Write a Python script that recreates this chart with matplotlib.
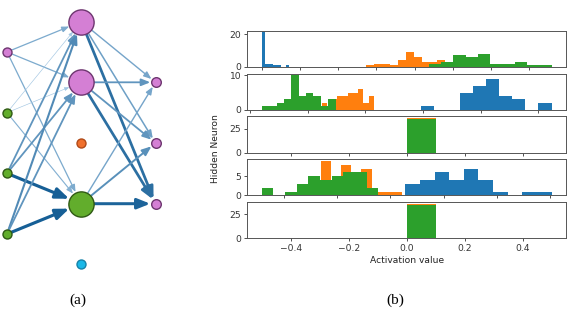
import numpy as np
import matplotlib
matplotlib.use("Agg")
import matplotlib.pyplot as plt
from matplotlib.patches import FancyArrowPatch
from matplotlib.ticker import MultipleLocator
from matplotlib.colors import to_rgb

# --- network (a): layers, node colours, node sizes, weighted edges ---
layer_sizes = [4, 5, 3]
node_colors = [
    ["pink", "green", "green", "green"],
    ["pink", "pink", "orange", "green", "cyan"],
    ["pink", "pink", "pink"],
]
node_sizes = [
    [42, 42, 42, 42],
    [330, 330, 42, 330, 42],
    [48, 48, 48],
]
# (from layer, from node, to node, weight)
edges = [
    (0, 0, 0, 0.30), (0, 0, 1, 0.30), (0, 0, 3, 0.30),
    (0, 1, 0, 0.05), (0, 1, 1, 0.05), (0, 1, 3, 0.25),
    (0, 2, 0, 0.50), (0, 2, 1, 0.50), (0, 2, 3, 1.00),
    (0, 3, 0, 0.60), (0, 3, 1, 0.50), (0, 3, 3, 1.00),
    (1, 0, 0, 0.35), (1, 0, 1, 0.40), (1, 0, 2, 0.85),
    (1, 1, 0, 0.50), (1, 1, 1, 0.50), (1, 1, 2, 0.85),
    (1, 3, 0, 0.35), (1, 3, 1, 0.55), (1, 3, 2, 0.95),
]

# --- histograms (b): per hidden neuron, per class (range, counts of 10 bins) ---
class_colors = ["#1f77b4", "#ff7f0e", "#2ca02c"]
n1_ranges = [(-0.600, -0.459), (-0.052, 0.361), (0.274, 0.918)]
n1_counts = [[21, 2, 2, 2, 1, 1, 1, 0, 0, 1],
             [1, 2, 2, 1, 4, 9, 6, 3, 3, 4],
             [2, 3, 7, 6, 8, 2, 2, 3, 1, 1]]
n2_ranges = [(-0.007, 0.4455), (-0.3513, -0.1705), (-0.5586, -0.3029)]
n2_counts = [[1, 0, 0, 5, 7, 9, 4, 3, 0, 2],
             [2, 1, 3, 4, 4, 5, 5, 6, 2, 4],
             [1, 1, 2, 3, 10, 4, 5, 4, 1, 3]]
n3_ranges = [(-0.5, 0.5), (-0.5, 0.5), (-0.5, 0.5)]
n3_counts = [[0, 0, 0, 0, 0, 31, 0, 0, 0, 0],
             [0, 0, 0, 0, 0, 36, 0, 0, 0, 0],
             [0, 0, 0, 0, 0, 35, 0, 0, 0, 0]]
n4_ranges = [(0.0562, 0.606), (-0.3385, 0.0438), (-0.4836, -0.0462)]
n4_counts = [[3, 4, 6, 4, 7, 4, 1, 0, 1, 1],
             [1, 1, 9, 3, 8, 4, 7, 1, 1, 1],
             [2, 0, 1, 3, 5, 4, 5, 6, 6, 2]]
n5_ranges = [(-0.5, 0.5), (-0.5, 0.5), (-0.5, 0.5)]
n5_counts = [[0, 0, 0, 0, 0, 31, 0, 0, 0, 0],
             [0, 0, 0, 0, 0, 36, 0, 0, 0, 0],
             [0, 0, 0, 0, 0, 35, 0, 0, 0, 0]]
y_ticks = [[0, 20], [0, 10], [0, 25], [0, 5], [0, 25]]

all_ranges = [n1_ranges, n2_ranges, n3_ranges, n4_ranges, n5_ranges]
all_counts = [n1_counts, n2_counts, n3_counts, n4_counts, n5_counts]

palette = {
    "pink": ("#d47fd4", "#6e3670"),
    "green": ("#62ad2c", "#2f5a14"),
    "orange": ("#f0702d", "#b04a18"),
    "cyan": ("#1ab8e8", "#1582a8"),
}

plt.rcParams.update({
    "font.family": ["DejaVu Sans"],
    "font.size": 6.6,
    "axes.edgecolor": "#555555",
    "axes.linewidth": 0.7,
    "xtick.major.size": 2.0,
    "ytick.major.size": 2.0,
    "xtick.major.width": 0.6,
    "ytick.major.width": 0.6,
    "xtick.major.pad": 2.4,
    "ytick.major.pad": 2.4,
    "xtick.labelsize": 6.6,
    "ytick.labelsize": 6.6,
    "xtick.color": "#333333",
    "ytick.color": "#333333",
})

fig = plt.figure(figsize=(5.7, 3.14), dpi=100)

# --- (a) network graph ---
ax_net = fig.add_axes([0, 1 - 280 / 314, 175 / 570, 280 / 314])
ax_net.set_xlim(-0.0943, 2.2626)
ax_net.set_ylim(2.257, -2.356)
ax_net.axis("off")


def node_pos(layer, i):
    n = layer_sizes[layer]
    return layer, i - (n - 1) / 2


def radius_pt(layer, i):
    return np.sqrt(node_sizes[layer][i]) / 2


light = np.array(to_rgb("#a9cbe6"))
dark = np.array(to_rgb("#165f96"))
for layer, a, b, w in edges:
    pa = node_pos(layer, a)
    pb = node_pos(layer + 1, b)
    arr = FancyArrowPatch(
        pa, pb,
        arrowstyle="-|>,head_length=0.5,head_width=0.2",
        mutation_scale=5 + 11 * w,
        lw=0.35 + 1.9 * w,
        color=tuple(light + (dark - light) * w),
        shrinkA=radius_pt(layer, a),
        shrinkB=radius_pt(layer + 1, b) + 0.3,
        zorder=1,
    )
    ax_net.add_patch(arr)

for layer, n in enumerate(layer_sizes):
    for i in range(n):
        x, y = node_pos(layer, i)
        face, edge = palette[node_colors[layer][i]]
        ax_net.scatter([x], [y], s=node_sizes[layer][i], c=face,
                       edgecolors=edge, linewidths=1.0, zorder=3)

# --- (b) activation histograms ---
gs = fig.add_gridspec(5, 1, left=0.434, right=0.993, top=0.9022,
                      bottom=0.2411, hspace=0.185)
for k in range(5):
    ax = fig.add_subplot(gs[k])
    for c in range(3):
        lo, hi = all_ranges[k][c]
        bins = np.linspace(lo, hi, 11)
        ax.hist(bins[:-1], bins=bins, weights=all_counts[k][c],
                color=class_colors[c])
    ax.xaxis.set_major_locator(MultipleLocator(0.2))
    ax.set_yticks(y_ticks[k])
    if k < 4:
        ax.tick_params(labelbottom=False)
    else:
        ax.set_xlabel("Activation value", labelpad=2, color="#222222")

fig.text(215 / 570, 1 - 149 / 314, "Hidden Neuron", rotation=90,
         ha="center", va="center", color="#222222")

# --- captions ---
fig.text(78 / 570, 1 - 300 / 314, "(a)", ha="center", va="center",
         fontsize=11, family=["Liberation Serif"])
fig.text(395 / 570, 1 - 300 / 314, "(b)", ha="center", va="center",
         fontsize=11, family=["Liberation Serif"])

fig.savefig("out.png", dpi=100)
